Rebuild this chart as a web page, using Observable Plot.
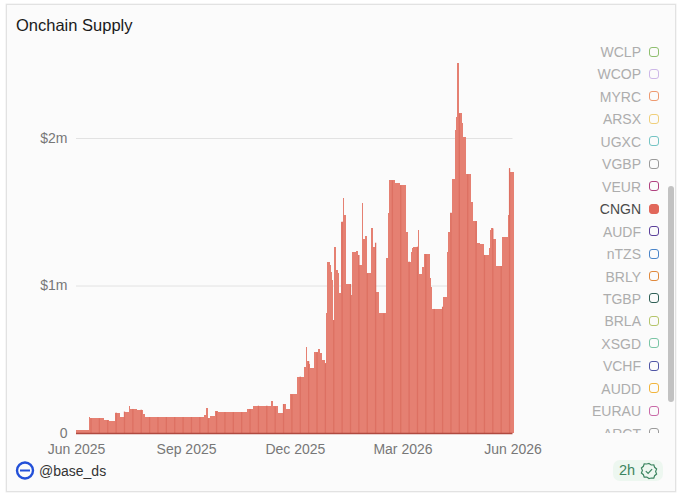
<!DOCTYPE html>
<html>
<head>
<meta charset="utf-8">
<script src="https://cdn.jsdelivr.net/npm/d3@7"></script>
<script src="https://cdn.jsdelivr.net/npm/@observablehq/plot@0.6"></script>
<style>
html,body{margin:0;padding:0;background:#fff;width:680px;height:496px;overflow:hidden;font-family:"Liberation Sans",Arial,sans-serif}
#card{position:absolute;left:6px;top:4px;width:668px;height:486px;border:1px solid #e2e2e2;box-shadow:0 0 0 .5px #eee;background:#fbfbfb}
#chart{position:absolute;left:0;top:0}
#title{position:absolute;left:16px;top:16px;font-size:16.5px;color:#1a1a1a}
#legend{position:absolute;left:540px;top:41px;width:120px;height:392px;overflow:hidden}
.item{position:absolute;right:0;height:22px;width:120px;font-size:14px;line-height:22px;color:#adadad;text-align:right}
.item span{position:absolute;right:19px;top:0}
.item i{position:absolute;right:1.500px;top:5.500px;width:8px;height:8px;border:1.500px solid;border-radius:3px;display:block}
.item.on{color:#4a4a4a}
#scroll{position:absolute;left:668px;top:186px;width:6px;height:216px;border-radius:3px;background:#c2c2c2}
#handle{position:absolute;left:39px;top:463px;font-size:14px;color:#333}
#logo{position:absolute;left:15px;top:460px}
#badge{position:absolute;left:613px;top:460px;width:50px;height:21px;border-radius:7px;background:#edf7f0;color:#3c8560;font-size:14.500px;line-height:21px}
#badge span{position:absolute;left:6px}
#badge svg{position:absolute;left:27px;top:2px}
</style>
</head>
<body>
<div id="card"></div>
<div id="chart"></div>
<div id="title">Onchain Supply</div>
<div id="legend"></div>
<div id="scroll"></div>
<svg id="logo" width="20" height="20" viewBox="0 0 20 20"><circle cx="10" cy="10.500" r="8" fill="none" stroke="#2350d8" stroke-width="2.400"/><line x1="5" x2="15" y1="10.500" y2="10.500" stroke="#2350d8" stroke-width="2"/></svg>
<div id="handle">@base_ds</div>
<div id="badge"><span>2h</span><svg width="18" height="18" viewBox="0 0 18 18" fill="none" stroke="#3c8560" stroke-width="1.200"><path d="M9 1.500l2.200 1.500 2.600-.2.800 2.500 2 1.700-1 2.500 1 2.500-2 1.700-.8 2.500-2.600-.2L9 16.500 6.800 15l-2.600.2-.8-2.500-2-1.700 1-2.500-1-2.500 2-1.700.8-2.500 2.600.2z"/><path d="M5.800 9.200l2.300 2.300 4-4.300"/></svg></div>
<script>
const startDates = ["2025-06-01","2025-06-12","2025-06-13","2025-06-24","2025-06-29","2025-07-04","2025-07-08","2025-07-11","2025-07-15","2025-07-16","2025-07-22","2025-07-27","2025-07-29","2025-09-16","2025-09-18","2025-09-19","2025-09-21","2025-09-25","2025-09-28","2025-10-22","2025-10-27","2025-11-11","2025-11-13","2025-11-17","2025-11-21","2025-11-24","2025-11-27","2025-12-03","2025-12-09","2025-12-10","2025-12-11","2025-12-13","2025-12-14","2025-12-17","2025-12-20","2025-12-22","2025-12-24","2025-12-26","2025-12-27","2025-12-28","2025-12-30","2025-12-31","2026-01-01","2026-01-02","2026-01-03","2026-01-04","2026-01-06","2026-01-07","2026-01-09","2026-01-10","2026-01-11","2026-01-13","2026-01-17","2026-01-18","2026-01-21","2026-01-23","2026-01-24","2026-01-26","2026-01-27","2026-01-29","2026-01-30","2026-02-03","2026-02-04","2026-02-06","2026-02-07","2026-02-09","2026-02-15","2026-02-17","2026-02-18","2026-02-23","2026-02-27","2026-03-03","2026-03-04","2026-03-06","2026-03-08","2026-03-09","2026-03-10","2026-03-14","2026-03-15","2026-03-17","2026-03-19","2026-03-24","2026-03-25","2026-03-26","2026-04-03","2026-04-04","2026-04-07","2026-04-08","2026-04-10","2026-04-11","2026-04-14","2026-04-15","2026-04-16","2026-04-17","2026-04-20","2026-04-21","2026-04-23","2026-04-27","2026-04-29","2026-05-02","2026-05-05","2026-05-08","2026-05-12","2026-05-13","2026-05-14","2026-05-16","2026-05-18","2026-05-23","2026-05-28","2026-05-29","2026-05-30"];
const supplyK = [23,108,100,88,81,138,108,145,180,163,158,130,108,122,170,100,113,147,142,163,185,217,180,135,196,160,262,382,450,581,487,470,443,547,569,540,495,472,811,1161,1139,1094,1037,766,1263,1105,1083,947,1433,1591,1478,1010,936,1225,1236,1207,1139,1562,1313,1335,1083,1388,1263,1290,958,811,1184,1490,1712,1695,1680,1681,1360,1162,1229,1252,1263,1376,1078,1128,1213,1048,992,841,856,924,1229,1365,1494,1720,2054,2145,2511,2167,2100,2005,1754,1568,1437,1290,1281,1207,1252,1376,1387,1313,1132,1326,1477,1794,1769];
const endDate = "2026-06-02";
const xTickDates = ["2025-06-01","2025-09-01","2025-12-01","2026-03-01","2026-06-01"];
const yTicks = [0,1e6,2e6];
const yTickLabels = ["0","$1m","$2m"];
const legendNames = ["WCLP","WCOP","MYRC","ARSX","UGXC","VGBP","VEUR","CNGN","AUDF","nTZS","BRLY","TGBP","BRLA","XSGD","VCHF","AUDD","EURAU","ARCT"];
const legendColors = ["#8fbf6f","#cdb8e8","#ee9a70","#f0cf7a","#74c4c4","#9a9a9a","#b0417f","#e1675a","#5a3f9a","#4a85c9","#e0893c","#2f5f56","#b5c56a","#7ac5a5","#4f55a5","#f2b53c","#c96aa8","#9a9a9a"];
const activeSeries = "CNGN";

const parse = d3.utcParse("%Y-%m-%d");
const starts = startDates.map(parse);
const rows = starts.map((d,i)=>({x1:d,x2:i+1<starts.length?starts[i+1]:parse(endDate),v:supplyK[i]*1000}));
const valueAt = d => rows[Math.max(0,d3.bisectRight(starts,d)-1)].v;
const weekly = d3.utcDay.range(parse("2025-06-13"),parse(endDate),7).map(d=>({x1:d,x2:d3.utcHour.offset(d,26),v:valueAt(d)}));

const chart = Plot.plot({
  width:680,height:496,
  marginLeft:76,marginRight:167.500,marginTop:49.500,marginBottom:63,
  style:{background:"transparent",fontFamily:'"Liberation Sans",Arial,sans-serif',fontSize:"14px",overflow:"visible"},
  x:{type:"utc",domain:[parse(xTickDates[0]),parse(xTickDates[4])]},
  y:{domain:[0,2.6e6]},
  marks:[
    Plot.ruleY([1e6,2e6],{stroke:"#e2e2e2",strokeWidth:1}),
    Plot.rectY(rows,{x1:"x1",x2:"x2",y:"v",fill:"#e58072",shapeRendering:"crispEdges"}),
    Plot.rectY(weekly,{x1:"x1",x2:"x2",y:"v",fill:"#dd7062"}),
    Plot.ruleY([0],{stroke:"#b04a40",strokeWidth:1.500}),
    Plot.axisX({ticks:xTickDates.map(parse),tickFormat:d3.utcFormat("%b %Y"),tickSize:0,tickPadding:11,color:"#777",label:null,fontSize:14}),
    Plot.axisY({ticks:yTicks,tickFormat:d=>yTickLabels[yTicks.indexOf(d)],tickSize:0,tickPadding:9,color:"#777",label:null,fontSize:14})
  ]
});
document.getElementById("chart").appendChild(chart);

const legend = document.getElementById("legend");
legendNames.forEach((n,i)=>{
  const el=document.createElement("div");
  el.className="item"+(n===activeSeries?" on":"");
  el.style.top=(i*22.45)+"px";
  const s=document.createElement("span");s.textContent=n;
  const sw=document.createElement("i");sw.style.borderColor=legendColors[i];
  if(n===activeSeries)sw.style.background=legendColors[i];
  el.append(s,sw);legend.appendChild(el);
});
</script>
</body>
</html>
